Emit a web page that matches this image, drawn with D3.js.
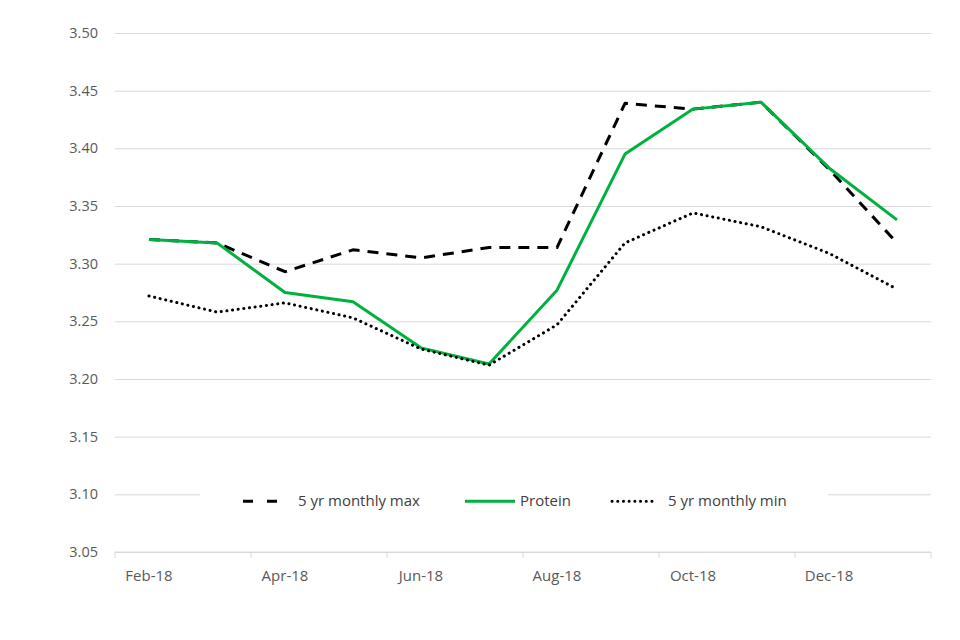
<!DOCTYPE html>
<html>
<head>
<meta charset="utf-8">
<script src="https://cdn.jsdelivr.net/npm/d3@7"></script>
<style>
  body { margin: 0; background: #fff; }
  text { font-family: "Open Sans", "Liberation Sans", Arial, sans-serif; }
</style>
</head>
<body>
<div id="chart"></div>
<script>
// data
var months = ["Feb-18", "Mar-18", "Apr-18", "May-18", "Jun-18", "Jul-18",
              "Aug-18", "Sep-18", "Oct-18", "Nov-18", "Dec-18", "Jan-19"];
var maxVals     = [3.321, 3.318, 3.293, 3.312, 3.305, 3.314, 3.314, 3.439, 3.434, 3.440, 3.382, 3.318];
var proteinVals = [3.321, 3.318, 3.275, 3.267, 3.227, 3.213, 3.277, 3.395, 3.434, 3.440, 3.383, 3.338];
var minVals     = [3.272, 3.258, 3.266, 3.253, 3.226, 3.212, 3.247, 3.318, 3.344, 3.332, 3.309, 3.278];
var yTicks = [3.05, 3.10, 3.15, 3.20, 3.25, 3.30, 3.35, 3.40, 3.45, 3.50];

var W = 960, H = 640;
var margin = {top: 33, right: 29, bottom: 88, left: 115},
    width = W - margin.left - margin.right,
    height = H - margin.top - margin.bottom;

var svg = d3.select("#chart")
  .append("svg")
    .attr("width", W)
    .attr("height", H)
  .append("g")
    .attr("transform", "translate(" + margin.left + "," + margin.top + ")");

var x = d3.scaleBand()
  .domain(months)
  .range([0, width]);

var y = d3.scaleLinear()
  .domain([3.05, 3.50])
  .range([height, 0]);

// gridlines
svg.append("g")
  .attr("class", "grid")
  .call(d3.axisLeft(y).tickValues(yTicks).tickSize(-width).tickFormat(""))
  .call(function(g) { g.select(".domain").remove(); })
  .selectAll("line")
    .attr("stroke", "#d9d9d9")
    .attr("stroke-width", 1);

// y labels
svg.append("g")
  .call(d3.axisLeft(y).tickValues(yTicks).tickSize(0).tickPadding(17).tickFormat(d3.format(".2f")))
  .call(function(g) { g.select(".domain").remove(); })
  .selectAll("text")
    .style("font-size", "14.5px")
    .style("fill", "#595959");

// x axis: ticks every two months on band edges
var xAxis = svg.append("g")
  .attr("transform", "translate(0," + height + ")");
xAxis.append("line")
  .attr("x1", 0).attr("x2", width)
  .attr("stroke", "#d9d9d9");
var edges = d3.range(0, months.length + 1, 2);
xAxis.selectAll(".tk")
  .data(edges)
  .enter()
  .append("line")
    .attr("x1", function(i) { return i < months.length ? x(months[i]) : width; })
    .attr("x2", function(i) { return i < months.length ? x(months[i]) : width; })
    .attr("y1", 0).attr("y2", 6)
    .attr("stroke", "#d9d9d9");
xAxis.selectAll(".lbl")
  .data(months.filter(function(d, i) { return i % 2 === 0; }))
  .enter()
  .append("text")
    .attr("x", function(d) { return x(d) + x.bandwidth() / 2; })
    .attr("y", 29)
    .attr("text-anchor", "middle")
    .style("font-size", "15px")
    .style("fill", "#595959")
    .text(function(d) { return d; });

var line = d3.line()
  .x(function(d, i) { return x(months[i]) + x.bandwidth() / 2; })
  .y(function(d) { return y(d); });

var series = [
  {name: "5 yr monthly max", values: maxVals, color: "#000", width: 3, dash: "11,8", cap: "butt"},
  {name: "Protein", values: proteinVals, color: "#00b140", width: 3, dash: null, cap: "butt"},
  {name: "5 yr monthly min", values: minVals, color: "#000", width: 3, dash: "0.1,5.6", cap: "round"}
];

series.forEach(function(s) {
  svg.append("path")
    .datum(s.values)
    .attr("fill", "none")
    .attr("stroke", s.color)
    .attr("stroke-width", s.width)
    .attr("stroke-dasharray", s.dash)
    .attr("stroke-linecap", s.cap)
    .attr("stroke-linejoin", "round")
    .attr("d", line);
});

// legend sits on a white box over the 3.10 gridline
var legend = svg.append("g")
  .attr("transform", "translate(0," + y(3.10) + ")");
legend.append("rect")
  .attr("x", 200 - margin.left).attr("y", -22)
  .attr("width", 628).attr("height", 44)
  .attr("fill", "#fff");

var legendPos = [128, 350, 497];
var legendText = [183, 405, 553];
series.forEach(function(s, i) {
  legend.append("line")
    .attr("x1", legendPos[i]).attr("x2", legendPos[i] + (i === 1 ? 50 : 42))
    .attr("y1", 7).attr("y2", 7)
    .attr("stroke", s.color)
    .attr("stroke-width", s.width)
    .attr("stroke-dasharray", i === 0 ? "10,14" : s.dash)
    .attr("stroke-linecap", s.cap);
  legend.append("text")
    .attr("x", legendText[i])
    .attr("y", 12)
    .style("font-size", "15px")
    .style("fill", "#404040")
    .text(s.name);
});
</script>
</body>
</html>
